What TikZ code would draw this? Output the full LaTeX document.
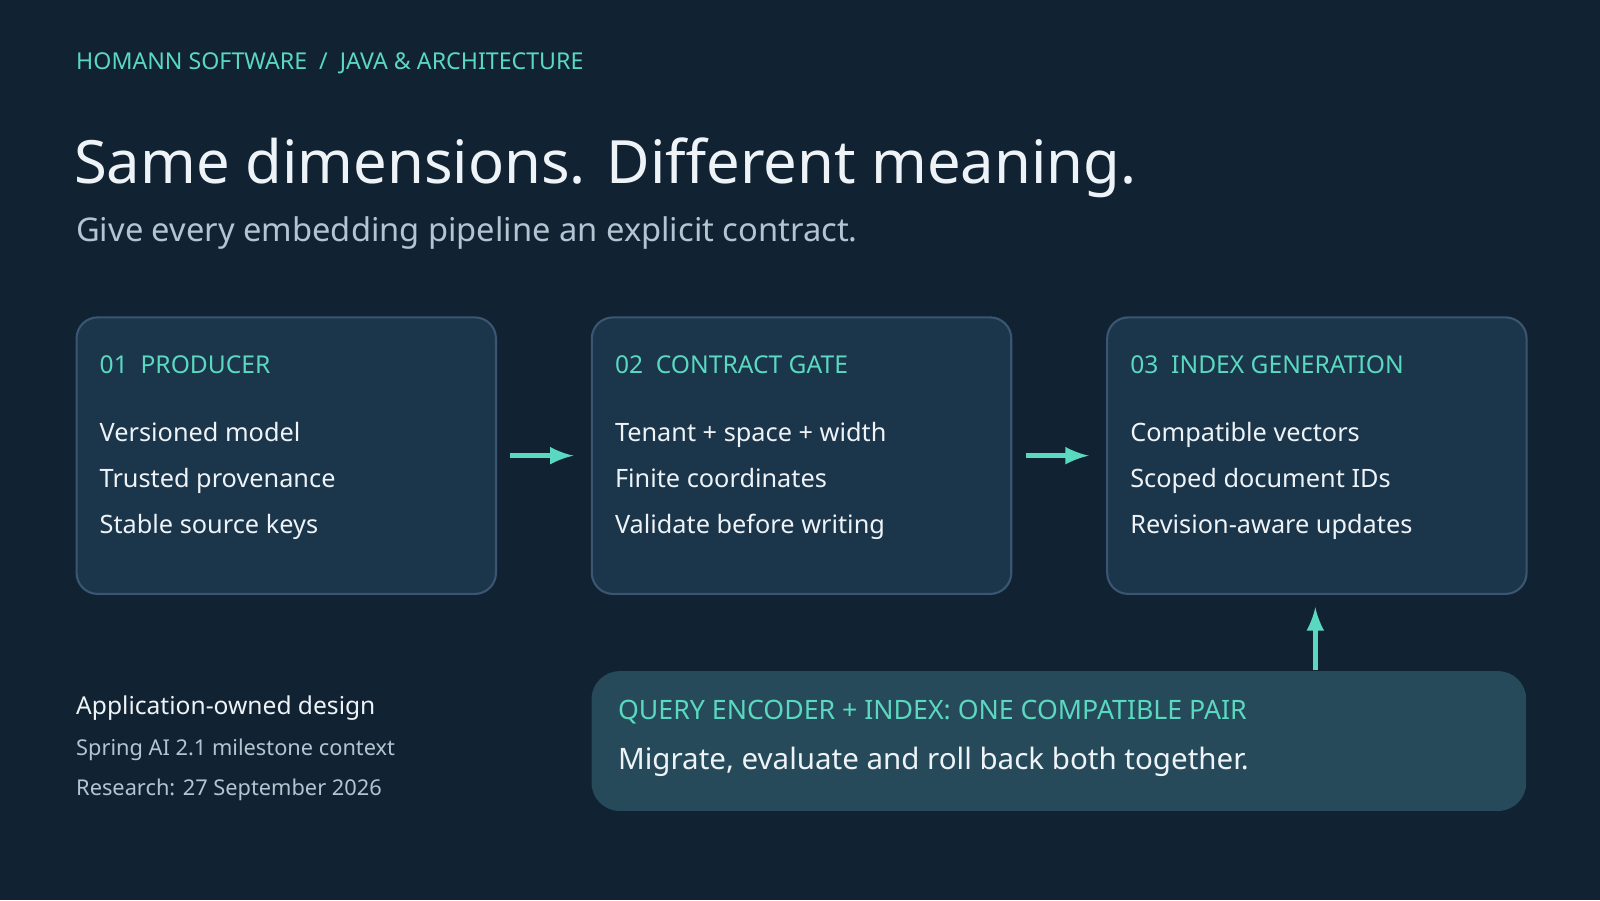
\documentclass[tikz,border=0pt]{standalone}
\usepackage{fontspec}
\setmainfont{Noto Sans}
\usetikzlibrary{positioning}
\definecolor{bg}{HTML}{112233}
\definecolor{card}{HTML}{1B354B}
\definecolor{cardline}{HTML}{3A5670}
\definecolor{pair}{HTML}{274A5A}
\definecolor{accent}{HTML}{5AD8C0}
\definecolor{ink}{HTML}{EEF3F7}
\definecolor{soft}{HTML}{B4C4D0}
\tikzset{card/.style={draw=cardline,fill=card,rounded corners=6pt,line width=0.6pt},
         head/.style={anchor=base west,text=accent,font=\bfseries\fontsize{7}{8}\selectfont,inner sep=0},
         item/.style={anchor=base west,text=ink,font=\fontsize{7.2}{8}\selectfont,inner sep=0},
         flow/.style={accent,line width=1.3pt,-latex}
}
\begin{document}
\begin{tikzpicture}[x=0.010204cm,y=-0.010204cm]
\fill[bg] (0,0) rectangle (1568,882);
\useasboundingbox (0,0) rectangle (1568,882);

% header
\node[head,font=\bfseries\fontsize{6.6}{8}\selectfont] (brand) at (74,68) {HOMANN SOFTWARE \ / \ JAVA \& ARCHITECTURE};
\node[anchor=base west,inner sep=0,text=ink,font=\bfseries\fontsize{17}{20}\selectfont] (title) at (72,180) {Same dimensions. Different meaning.};
\node[anchor=base west,inner sep=0,text=soft,font=\fontsize{9.3}{11}\selectfont] (sub) at (74,237) {Give every embedding pipeline an explicit contract.};

% stages
\foreach \x/\name/\lbl/\a/\b/\c in {
  74/prod/01\ \ PRODUCER/Versioned model/Trusted provenance/Stable source keys,
  579/gate/02\ \ CONTRACT GATE/Tenant + space + width/Finite coordinates/Validate before writing,
  1084/idx/03\ \ INDEX GENERATION/Compatible vectors/Scoped document IDs/Revision-aware updates}{
  \node[card,anchor=north west,minimum width=411*0.010204cm,minimum height=271*0.010204cm] (\name) at (\x,310) {};
  \node[head] at (\x+23,366) {\lbl};
  \node[item] at (\x+23,433) {\a};
  \node[item] at (\x+23,478) {\b};
  \node[item] at (\x+23,523) {\c};
}
\draw[flow] (prod.east)++(13,0) coordinate (p1) -- ++(62,0);
\draw[flow] (gate.east)++(13,0) coordinate (p2) -- ++(62,0);

% compatible pair
\node[fill=pair,rounded corners=8pt,anchor=north west,minimum width=916*0.010204cm,minimum height=137*0.010204cm] (pair) at (579,657) {};
\node[head,font=\bfseries\fontsize{7.6}{9}\selectfont] at (605,705) {QUERY ENCODER + INDEX: ONE COMPATIBLE PAIR};
\node[item,font=\fontsize{8.4}{10}\selectfont] at (605,754) {Migrate, evaluate and roll back both together.};
\draw[flow] (pair.north -| 1289,0) -- (1289,595);

% footer
\node[item,font=\bfseries\fontsize{7}{8}\selectfont] at (74,700) {Application-owned design};
\node[item,text=soft,font=\fontsize{6.2}{8}\selectfont] at (74,740) {Spring AI 2.1 milestone context};
\node[item,text=soft,font=\fontsize{6.2}{8}\selectfont] at (74,780) {Research: 27 September 2026};
\end{tikzpicture}
\end{document}
